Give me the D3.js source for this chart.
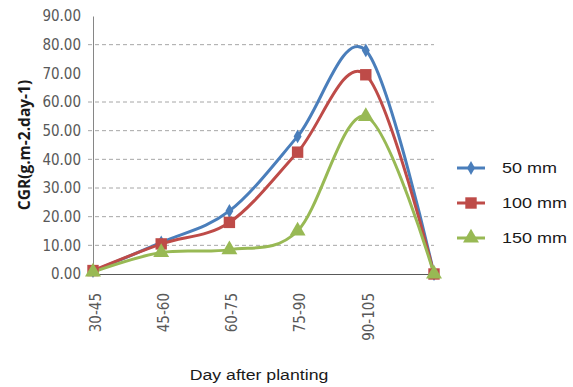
<!DOCTYPE html>
<html><head><meta charset="utf-8">
<script src="https://cdn.jsdelivr.net/npm/d3@7"></script>
<style>body{margin:0;background:#fff}svg{display:block}</style>
</head><body>
<script>
const categories = ["30-45","45-60","60-75","75-90","90-105",""];
const series50 = [1.0, 11.0, 22.0, 48.0, 78.0, 0.0];
const series100 = [1.2, 10.5, 18.0, 42.5, 69.5, 0.0];
const series150 = [0.7, 7.5, 8.5, 15.0, 55.0, 0.0];
const seriesNames = ["50 mm","100 mm","150 mm"];
const yTicks = [0,10,20,30,40,50,60,70,80,90];
const gridTicks = [10,20,30,40,50,60,80];

const W=573,H=387;
const svg=d3.select("body").append("svg").attr("width",W).attr("height",H);
const x=d3.scalePoint().domain(categories.map((c,i)=>i)).range([93,434]);
const y=d3.scaleLinear().domain([0,90]).range([274,16]);
const tickFont="'Liberation Sans Narrow','DejaVu Sans Condensed',sans-serif";

// gridlines
svg.append("g").selectAll("line").data(gridTicks).join("line")
 .attr("x1",88).attr("x2",434).attr("y1",d=>y(d)).attr("y2",d=>y(d))
 .attr("stroke","#a6a6a6").attr("stroke-width",1).attr("stroke-dasharray","4,3");

// y axis
const ya=svg.append("g").attr("transform","translate(93,0)")
 .call(d3.axisLeft(y).tickValues(yTicks).tickFormat(d3.format(".2f")).tickSize(0).tickPadding(12));
ya.select(".domain").attr("stroke","#868686");
ya.selectAll("text").attr("font-family",tickFont).attr("font-size",15).attr("fill","#595959");

// x axis
const xa=svg.append("g").attr("transform","translate(0,274)")
 .call(d3.axisBottom(x).tickFormat(i=>categories[i]).tickSize(0).tickPadding(0));
xa.select(".domain").attr("stroke","#595959").attr("stroke-width",1.2);
xa.selectAll("text").attr("font-family",tickFont).attr("font-size",15).attr("fill","#595959")
 .attr("transform","rotate(-90)").attr("text-anchor","end").attr("dy","0.35em").attr("x",-19).attr("y",2);

// titles
svg.append("text").attr("transform","translate(30,145) rotate(-90)").attr("text-anchor","middle")
 .attr("font-family","'Open Sans','DejaVu Sans',sans-serif").attr("font-weight","bold").attr("font-size",15.5)
 .attr("fill","#1a1a1a").text("CGR(g.m-2.day-1)");
svg.append("text").attr("transform","translate(259,380) scale(1.18,1)").attr("text-anchor","middle")
 .attr("font-family","'Liberation Sans',Arial,sans-serif").attr("font-size",15).attr("fill","#1a1a1a")
 .text("Day after planting");

const colors=["#4a7ebb","#be4b48","#98b954"];
const data=[series50,series100,series150];
const line=d3.line().x((d,i)=>x(i)).y(d=>y(d)).curve(d3.curveCardinal.tension(0));
const sym=[d3.symbolDiamond,d3.symbolSquare,d3.symbolTriangle];
const symSize=[55,130,110];

[0,1,2].forEach(k=>{
 svg.append("path").attr("d",line(data[k])).attr("fill","none").attr("stroke",colors[k]).attr("stroke-width",3);
});
[0,1,2].forEach(k=>{
 svg.append("g").selectAll("path").data(data[k]).join("path")
  .attr("transform",(d,i)=>`translate(${x(i)},${y(d)})`)
  .attr("d",d3.symbol().type(sym[k]).size(symSize[k])).attr("fill",colors[k]);
});

// legend
const ly=[168,203,238];
seriesNames.forEach((n,k)=>{
 const g=svg.append("g");
 g.append("line").attr("x1",457).attr("x2",485).attr("y1",ly[k]).attr("y2",ly[k]).attr("stroke",colors[k]).attr("stroke-width",3);
 g.append("path").attr("transform",`translate(471,${ly[k]})`).attr("d",d3.symbol().type(sym[k]).size(symSize[k])).attr("fill",colors[k]);
 g.append("text").attr("transform",`translate(502,${ly[k]}) scale(1.2,1)`).attr("dy","0.35em").attr("font-family","'Liberation Sans',Arial,sans-serif")
  .attr("font-size",15).attr("fill","#1a1a1a").text(n);
});
</script>
</body></html>
